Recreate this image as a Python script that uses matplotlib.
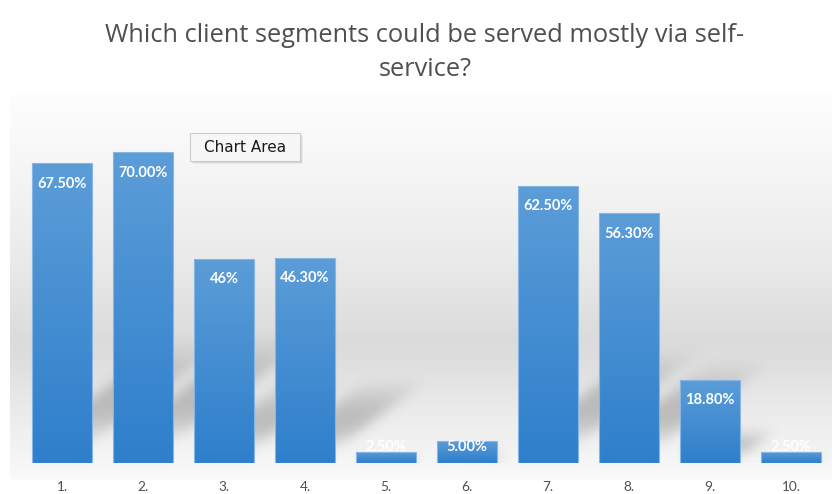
import numpy as np
import matplotlib
matplotlib.use("Agg")
import matplotlib.pyplot as plt
from matplotlib.patches import Rectangle
from matplotlib.colors import to_rgb

# ---- data -------------------------------------------------------------
segments = ["1.", "2.", "3.", "4.", "5.", "6.", "7.", "8.", "9.", "10."]
shares = [67.5, 70.0, 46.0, 46.3, 2.5, 5.0, 62.5, 56.3, 18.8, 2.5]
share_labels = ["67.50%", "70.00%", "46%", "46.30%", "2.50%",
                "5.00%", "62.50%", "56.30%", "18.80%", "2.50%"]
title_lines = ["Which client segments could be served mostly via self-",
               "service?"]

W, H = 832, 494
fig = plt.figure(figsize=(W / 100, H / 100), dpi=100)
fig.patch.set_facecolor("white")


def fx(px):
    return px / W


def fy(py):
    return 1 - py / H


# ---- soft grey backdrop ------------------------------------------------
bg_top, bg_bot, bg_left = 95, 480, 10
bg = fig.add_axes([fx(bg_left), fy(bg_bot), fx(W - bg_left), (bg_bot - bg_top) / H])
rows = np.arange(bg_top, bg_bot)
stops_y = [95, 140, 200, 260, 310, 340, 360, 390, 420, 450, 470, 480]
stops_v = [253, 249, 242, 234, 225, 219, 222, 230, 237, 243, 248, 252]
grey = np.interp(rows, stops_y, stops_v) / 255.0
bg_img = np.dstack([np.repeat(grey[:, None], 2, axis=1)] * 3)
bg.imshow(bg_img, aspect="auto", extent=[0, 1, 0, 1], interpolation="bilinear")
bg.axis("off")

# ---- main axes -----------------------------------------------------------
ax_left, ax_base, ax_w, ax_h = 21.5, 463, 810, 355
ax = fig.add_axes([fx(ax_left), fy(ax_base), fx(ax_w), ax_h / H])
ax.patch.set_alpha(0)
XLIM, YLIM = (-0.5, 9.5), (0, 80)
ax.set_xlim(*XLIM)
ax.set_ylim(*YLIM)
x = np.arange(len(shares))
bw = 0.73

# cast shadows behind the bars (skewed, blurred parallelograms)
x0a, y0a, wa, ha = ax.bbox.bounds
nx, ny = int(round(wa)), int(round(ha))
S = np.zeros((ny, nx))
yy = np.arange(ny)[:, None] + 0.5
xx = np.arange(nx)[None, :] + 0.5
slope = 0.75
for xi, v in zip(x, shares):
    l, b = ax.transData.transform((xi - bw / 2, 0)) - (x0a, y0a)
    r, t = ax.transData.transform((xi + bw / 2, v)) - (x0a, y0a)
    hb = t - b
    start, span = 0.07 * hb, 0.34 * hb
    u = (yy - b - start) / max(span, 1)
    prof = np.where((u > 0) & (u < 1), np.sin(np.pi * u ** 0.75), 0.0)
    shift = (yy - b - start) / slope
    inside = (xx >= l + shift) & (xx <= r + shift)
    S = np.maximum(S, prof * inside)


def blur(a, sigma):
    k = np.arange(-3 * sigma, 3 * sigma + 1)
    g = np.exp(-k ** 2 / (2 * sigma ** 2))
    g /= g.sum()
    a = np.apply_along_axis(lambda m: np.convolve(m, g, mode="same"), 0, a)
    a = np.apply_along_axis(lambda m: np.convolve(m, g, mode="same"), 1, a)
    return a


S = blur(S, 6)[::-1]
shadow = np.zeros((ny, nx, 4))
shadow[..., :3] = 0.3
shadow[..., 3] = np.clip(S, 0, 1) * 0.30
ax.imshow(shadow, extent=[*XLIM, *YLIM], aspect="auto", zorder=1,
          interpolation="bilinear")

# bars with vertical blue gradient
bars = ax.bar(x, shares, width=bw, color="#4a8fd4", linewidth=0, zorder=2)
top_c, bot_c = np.array(to_rgb("#5c9dd8")), np.array(to_rgb("#2e7fcc"))
tt = np.linspace(0, 1, 256)[:, None]
grad = (top_c * (1 - tt) + bot_c * tt)[:, None, :]
for xi, v, patch in zip(x, shares, bars):
    im = ax.imshow(grad, extent=[xi - bw / 2, xi + bw / 2, 0, v], aspect="auto",
                   zorder=2.5, interpolation="bilinear")
    im.set_clip_path(patch)
ax.bar(x, shares, width=bw, fill=False, edgecolor="#86b6e4", linewidth=0.8, zorder=3)
ax.set_xlim(*XLIM)
ax.set_ylim(*YLIM)

# value labels
for xi, v, lab in zip(x, shares, share_labels):
    ax.text(xi, max(v - 4.6, 3.6), lab, ha="center", va="center", color="white",
            fontsize=10.5, fontweight="bold", family=["Lato", "DejaVu Sans"], zorder=5)

ax.set_xticks(x, segments)
ax.tick_params(axis="x", length=0, pad=13, labelsize=9.8, labelcolor="#4f4f4f")
for lbl in ax.get_xticklabels():
    lbl.set_family(["Lato", "DejaVu Sans"])
ax.set_yticks([])
for sp in ax.spines.values():
    sp.set_visible(False)

# ---- title -----------------------------------------------------------------
for line, ypx in zip(title_lines, [35, 70]):
    fig.text(fx(425), fy(ypx), line, ha="center", va="center", fontsize=18.3,
             color="#4f4f4f", family=["Open Sans", "DejaVu Sans"])

# ---- "Chart Area" hover tag ------------------------------------------------
bx0, by0, bx1, by1 = 190, 133, 300, 161
for off, a in [(3, 0.05), (2, 0.07), (1, 0.09)]:
    fig.add_artist(Rectangle((fx(bx0 + off), fy(by1 + off)), fx(bx1 - bx0), (by1 - by0) / H,
                             transform=fig.transFigure, facecolor="black", alpha=a,
                             edgecolor="none", zorder=6))
fig.add_artist(Rectangle((fx(bx0), fy(by1)), fx(bx1 - bx0), (by1 - by0) / H,
                         transform=fig.transFigure, facecolor="#f7f7f7",
                         edgecolor="#cccccc", linewidth=0.8, zorder=7))
fig.text(fx((bx0 + bx1) / 2), fy((by0 + by1) / 2), "Chart Area", ha="center", va="center",
         fontsize=11, color="#1a1a1a", family=["DejaVu Sans"], zorder=8)

fig.savefig("out.png", dpi=100)
